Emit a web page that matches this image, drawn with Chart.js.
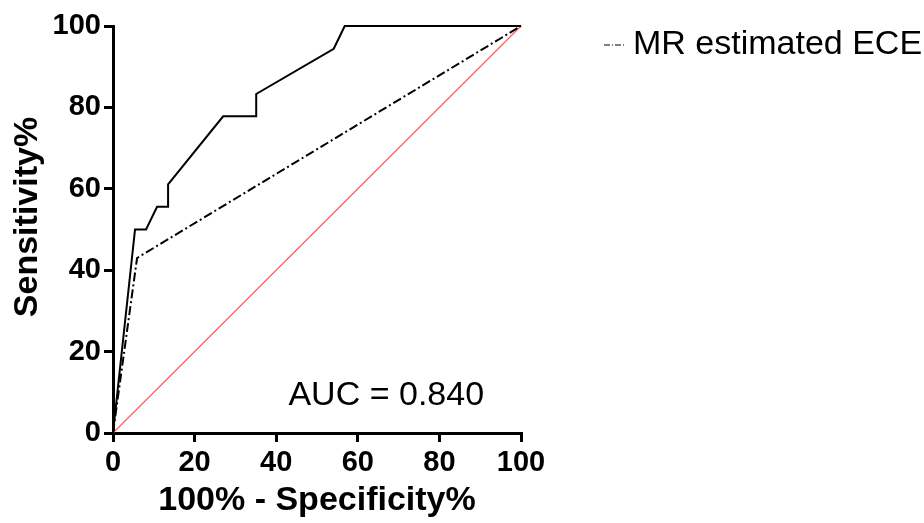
<!DOCTYPE html>
<html>
<head>
<meta charset="utf-8">
<script src="https://cdn.jsdelivr.net/npm/chart.js@4/dist/chart.umd.min.js"></script>
<style>
  html, body { margin: 0; padding: 0; background: #ffffff; }
  #wrap { width: 924px; height: 523px; position: relative; }
</style>
</head>
<body>
<div id="wrap"><canvas id="roc"></canvas></div>
<script>
// ROC curve data (percent)
const rocX = [0, 5.4, 8.1, 10.8, 13.5, 13.5, 27.0, 35.1, 35.1, 54.1, 56.8, 100];
const rocY = [0, 50, 50, 55.6, 55.6, 61.1, 77.8, 77.8, 83.3, 94.4, 100, 100];

const mrX = [0, 5.9, 100];
const mrY = [0, 43, 100];

const refX = [0, 100];
const refY = [0, 100];

const xTicks = [0, 20, 40, 60, 80, 100];
const yTicks = [0, 20, 40, 60, 80, 100];

const legendLabel = "MR estimated ECE";
const aucText = "AUC = 0.840";

function toPoints(xs, ys) {
  return xs.map((x, i) => ({ x: x, y: ys[i] }));
}

const FONT = "'Liberation Sans', Arial, Helvetica, sans-serif";

// legend, AUC label and y title drawn on top
const extrasPlugin = {
  id: "extras",
  afterDraw(chart) {
    const ctx = chart.ctx;
    const xs = chart.scales.x;
    const ys = chart.scales.y;
    ctx.save();

    // AUC text
    ctx.fillStyle = "#000";
    ctx.font = "34px " + FONT;
    ctx.textBaseline = "middle";
    ctx.textAlign = "left";
    ctx.fillText(aucText, xs.getPixelForValue(43), ys.getPixelForValue(9.3));

    // legend
    const ly = 45;
    ctx.strokeStyle = "#000";
    ctx.lineWidth = 1;
    ctx.setLineDash([6, 2, 1, 2]);
    ctx.beginPath();
    ctx.moveTo(604, ly);
    ctx.lineTo(626, ly);
    ctx.stroke();
    ctx.setLineDash([]);
    ctx.font = "34px " + FONT;
    ctx.fillText(legendLabel, 633, ly);

    // y axis title
    ctx.translate(28, 217);
    ctx.rotate(-Math.PI / 2);
    ctx.textAlign = "center";
    ctx.font = "bold 34px " + FONT;
    ctx.fillText("Sensitivity%", 0, 0);
    ctx.restore();
  }
};

new Chart(document.getElementById("roc"), {
  type: "scatter",
  data: {
    datasets: [
      {
        label: "ROC",
        data: toPoints(rocX, rocY),
        showLine: true,
        borderColor: "#000",
        borderWidth: 2,
        pointRadius: 0,
        tension: 0,
        clip: false
      },
      {
        label: legendLabel,
        data: toPoints(mrX, mrY),
        showLine: true,
        borderColor: "#000",
        borderWidth: 2,
        borderDash: [9, 3, 2, 3],
        pointRadius: 0,
        tension: 0,
        clip: false
      },
      {
        label: "Reference",
        data: toPoints(refX, refY),
        showLine: true,
        borderColor: "#ff5c5c",
        borderWidth: 1.2,
        borderDash: [],
        pointRadius: 0,
        tension: 0,
        clip: false
      }
    ]
  },
  options: {
    responsive: true,
    maintainAspectRatio: false,
    animation: false,
    layout: { padding: { left: 0, top: 26, right: 403, bottom: 0 } },
    plugins: {
      legend: { display: false },
      tooltip: { enabled: false }
    },
    scales: {
      x: {
        type: "linear",
        min: 0,
        max: 100,
        afterFit(scale) { scale.height = 90; },
        afterBuildTicks(scale) { scale.ticks = xTicks.map(v => ({ value: v })); },
        border: { color: "#000", width: 3 },
        grid: { drawOnChartArea: false, drawTicks: true, tickLength: 9, tickColor: "#000", lineWidth: 3 },
        ticks: { color: "#000", padding: 4, autoSkip: false, maxRotation: 0, font: { family: FONT, size: 29, weight: "bold" } },
        title: { display: true, text: "100% - Specificity%", color: "#000", padding: { top: 0, bottom: 2 }, font: { family: FONT, size: 34, weight: "bold" } }
      },
      y: {
        type: "linear",
        min: 0,
        max: 100,
        afterFit(scale) { scale.width = 113; },
        afterBuildTicks(scale) { scale.ticks = yTicks.map(v => ({ value: v })); },
        border: { color: "#000", width: 3 },
        grid: { drawOnChartArea: false, drawTicks: true, tickLength: 9, tickColor: "#000", lineWidth: 3 },
        ticks: { color: "#000", padding: 3, autoSkip: false, font: { family: FONT, size: 29, weight: "bold" } }
      }
    }
  },
  plugins: [extrasPlugin]
});
</script>
</body>
</html>
